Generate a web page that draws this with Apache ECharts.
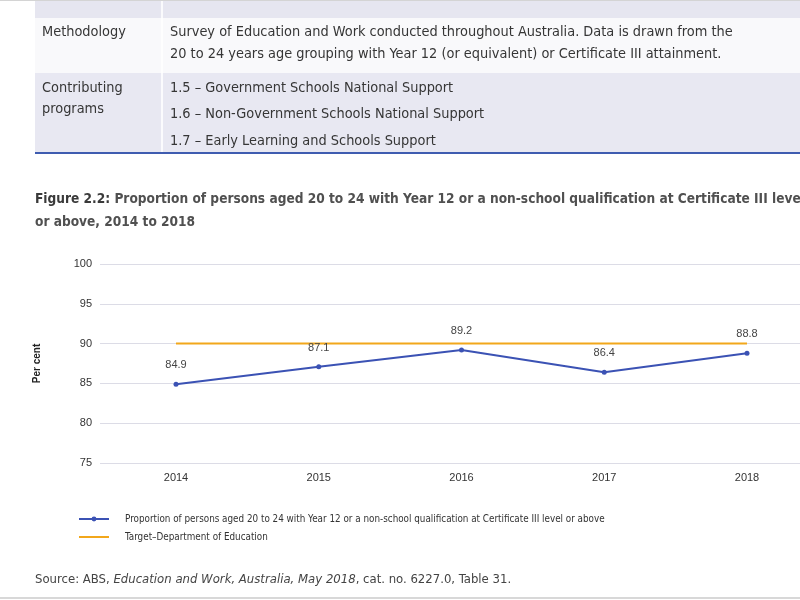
<!DOCTYPE html>
<html>
<head>
<meta charset="utf-8">
<script src="https://cdn.jsdelivr.net/npm/echarts@6/dist/echarts.min.js"></script>
<style>html,body{margin:0;padding:0;background:#fff;}#c{width:800px;height:600px;}</style>
</head>
<body>
<div id="c"></div>
<script>
var years = ['2014', '2015', '2016', '2017', '2018'];
var proportion = [84.9, 87.1, 89.2, 86.4, 88.8];
var target = [90, 90, 90, 90, 90];
var yTicks = [75, 80, 85, 90, 95, 100];
var seriesNames = ['Proportion of persons aged 20 to 24 with Year 12 or a non-school qualification at Certificate III level or above', 'Target\u2013Department of Education'];

var NARROW = '"Liberation Sans Narrow","DejaVu Sans Condensed","Roboto",sans-serif';
var chart = echarts.init(document.getElementById('c'));
function txt(x, y, s, extra) {
  var st = Object.assign({x: x, y: y, text: s, fill: '#363636', font: '14.4px ' + NARROW, textVerticalAlign: 'middle'}, extra || {});
  return {type: 'text', style: st, silent: true};
}
var graphics = [
  {type: 'rect', shape: {x: 0, y: 0, width: 800, height: 1}, style: {fill: '#d4d4d4'}, silent: true},
  {type: 'rect', shape: {x: 35, y: 1, width: 765, height: 17}, style: {fill: '#e6e6f0'}, silent: true},
  {type: 'rect', shape: {x: 35, y: 18, width: 765, height: 55}, style: {fill: '#f9f9fb'}, silent: true},
  {type: 'rect', shape: {x: 35, y: 73, width: 765, height: 79}, style: {fill: '#e8e8f2'}, silent: true},
  {type: 'rect', shape: {x: 161, y: 1, width: 2, height: 151}, style: {fill: '#ffffff', opacity: 0.8}, silent: true},
  {type: 'rect', shape: {x: 35, y: 152, width: 765, height: 2}, style: {fill: '#3f5cb0'}, silent: true},
  txt(42, 32, 'Methodology'),
  txt(170, 32, 'Survey of Education and Work conducted throughout Australia. Data is drawn from the'),
  txt(170, 54, '20 to 24 years age grouping with Year 12 (or equivalent) or Certificate III attainment.'),
  txt(42, 88, 'Contributing'),
  txt(42, 109, 'programs'),
  txt(170, 88, '1.5 \u2013 Government Schools National Support'),
  txt(170, 114, '1.6 \u2013 Non-Government Schools National Support'),
  txt(170, 141, '1.7 \u2013 Early Learning and Schools Support'),
  {type: 'text', silent: true, style: {x: 35, y: 199, textVerticalAlign: 'middle', rich: {
      a: {font: 'bold 13.6px ' + NARROW, fill: '#3a3a3a'},
      b: {font: 'bold 13.6px ' + NARROW, fill: '#505050'}
    }, text: '{a|Figure 2.2:}{b| Proportion of persons aged 20 to 24 with Year 12 or a non-school qualification at Certificate III level}'}},
  txt(35, 222, 'or above, 2014 to 2018', {font: 'bold 13.6px ' + NARROW, fill: '#505050'}),
  {type: 'text', silent: true, style: {x: 35, y: 580, textVerticalAlign: 'middle', rich: {
      n: {font: '13px ' + NARROW, fill: '#444'},
      i: {font: 'italic 13px ' + NARROW, fill: '#444'}
    }, text: '{n|Source: ABS, }{i|Education and Work, Australia, May 2018}{n|, cat. no. 6227.0, Table 31.}'}},
  {type: 'rect', shape: {x: 0, y: 597, width: 800, height: 2}, style: {fill: '#d8d8d8'}, silent: true}
];

chart.setOption({
  animation: false,
  backgroundColor: '#ffffff',
  graphic: graphics,
  grid: [
    {left: 100, right: 0, top: 264, bottom: 137},
    {left: 176, right: 53, top: 264, bottom: 137}
  ],
  xAxis: [
    {gridIndex: 0, type: 'category', data: years, show: false},
    {gridIndex: 1, type: 'category', data: years, boundaryGap: false,
     axisLine: {show: false}, axisTick: {show: false},
     axisLabel: {fontSize: 11, color: '#333', margin: 9, fontFamily: 'Liberation Sans, Arial, sans-serif'}}
  ],
  yAxis: [
    {gridIndex: 0, type: 'value', min: yTicks[0], max: yTicks[yTicks.length - 1], interval: 5,
     axisLine: {show: false}, axisTick: {show: false},
     axisLabel: {fontSize: 11, color: '#333', margin: 8, fontFamily: 'Liberation Sans, Arial, sans-serif'},
     splitLine: {lineStyle: {color: '#dcdce6', width: 1}},
     name: 'Per cent', nameLocation: 'middle', nameRotate: 90, nameGap: 58,
     nameTextStyle: {fontSize: 10, fontWeight: 'bold', color: '#222', fontFamily: 'Liberation Sans, Arial, sans-serif'}},
    {gridIndex: 1, type: 'value', min: yTicks[0], max: yTicks[yTicks.length - 1], show: false, splitLine: {show: false}}
  ],
  legend: {
    orient: 'vertical', left: 78, top: 514, padding: 0, itemWidth: 30, itemHeight: 6, itemGap: 8,
    textStyle: {fontSize: 9.8, color: '#333', fontFamily: NARROW, padding: [0, 0, 0, 11]},
    data: [
      {name: seriesNames[0]},
      {name: seriesNames[1], icon: 'path://M0,0H30V2H0Z'}
    ]
  },
  series: [
    {name: seriesNames[1], type: 'line', xAxisIndex: 1, yAxisIndex: 1, data: target, symbol: 'none',
     lineStyle: {color: '#f2a71b', width: 2}, itemStyle: {color: '#f2a71b'}, z: 2},
    {name: seriesNames[0], type: 'line', xAxisIndex: 1, yAxisIndex: 1, data: proportion, symbol: 'circle', symbolSize: 5,
     lineStyle: {color: '#3b52b4', width: 2}, itemStyle: {color: '#3b52b4'}, z: 3,
     label: {show: true, position: 'top', distance: 11, fontSize: 11, color: '#444', fontFamily: 'Liberation Sans, Arial, sans-serif'}}
  ]
});
</script>
</body>
</html>
